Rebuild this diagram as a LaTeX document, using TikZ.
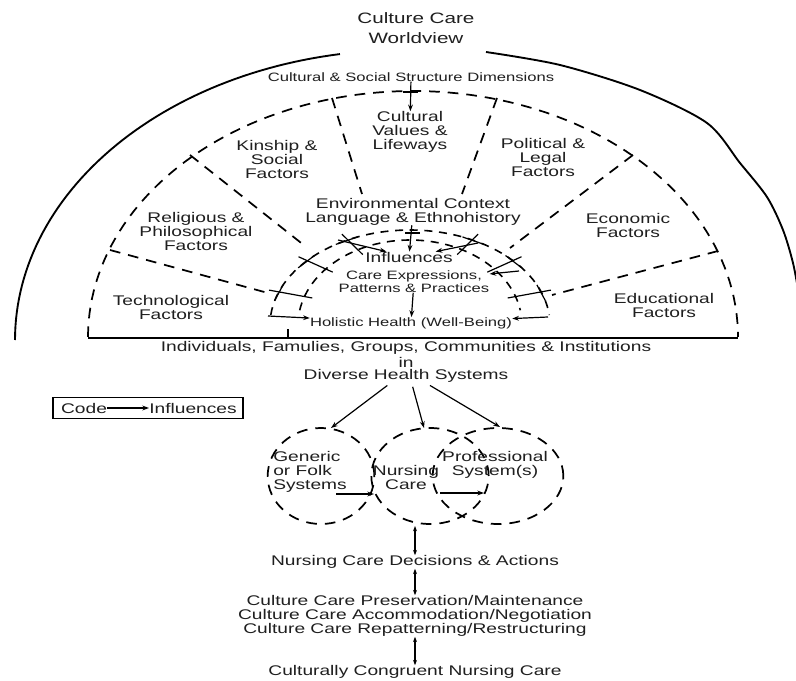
\documentclass[tikz,border=0pt]{standalone}
\usepackage{fontspec}
\setmainfont[FakeStretch=1.37]{Liberation Sans}
\usetikzlibrary{arrows.meta,shapes.geometric}
\begin{document}
\begin{tikzpicture}[x=0.75pt,y=-0.75pt,
  lbl/.style={font=\fontsize{10.5}{10.5}\selectfont,align=center,inner sep=0pt,text=black!88},
  slbl/.style={font=\fontsize{9.1}{9.8}\selectfont,align=center,inner sep=0pt,text=black!88},
  ttl/.style={font=\fontsize{11.3}{15}\selectfont,align=center,inner sep=0pt,text=black!88},
  solidln/.style={line width=1.4pt},
  dashln/.style={line width=1.3pt,dash pattern=on 8pt off 6pt},
  smalldash/.style={line width=1.2pt,dash pattern=on 6pt off 5pt},
  infl/.style={line width=0.9pt,-{Stealth[length=5pt,width=3.6pt]}},
  bidir/.style={line width=0.9pt,{Stealth[length=4pt,width=3pt]}-{Stealth[length=4pt,width=3pt]}},
  circ/.style={draw,ellipse,dashln,minimum height=72pt,inner sep=0pt},
  tick/.style={line width=0.9pt},
]
\clip (0,0) rectangle (796,681);
\fill[white] (0,0) rectangle (796,681);

% outer solid arc (sun)
\draw[solidln] plot[domain=180:260.4,samples=60] ({405+390*cos(\x)},{340+290*sin(\x)});
\draw[solidln] plot[smooth] coordinates {(486,52) (560,65) (640,90) (707,123) (740,163) (767,197) (783,230) (793,263) (799,295)};

% dashed ring of the dimensions
\draw[dashln] plot[domain=180:360,samples=100] ({413+325*cos(\x)},{337+246*sin(\x)});

% base line
\draw[solidln] (88,338) -- (738,338);
\draw[tick] (288,329) -- (288,338);

% sector dividers
\draw[dashln] (110,250) -- (268,293);
\draw[dashln] (190,155) -- (305,246);
\draw[dashln] (332,98) -- (362,194);
\draw[dashln] (497,98) -- (462,194);
\draw[dashln] (633,155) -- (510,248);
\draw[dashln] (718,251) -- (552,295);

% inner arcs
\draw[smalldash] plot[domain=186:354,samples=60] ({410+140*cos(\x)},{325+95*sin(\x)});
\draw[smalldash] plot[domain=190:350,samples=60] ({410+112*cos(\x)},{325+85*sin(\x)});

% influence ticks crossing the inner arcs
\foreach \a in {200,222,243,297,318,340}{
  \draw[tick] ({410+150*cos(\a)},{325+102*sin(\a)}) -- ({410+104*cos(\a)},{325+79*sin(\a)});
  \draw[tick] ({410+140*cos(\a-5)},{325+95*sin(\a-5)}) -- ({410+140*cos(\a+5)},{325+95*sin(\a+5)});
}

% texts of the sun
\node[ttl] (title) at (416,28) {Culture Care\\Worldview};
\node[slbl] (cssd) at (411,77) {Cultural \& Social Structure Dimensions};
\node[lbl] (kin) at (277,159) {Kinship \&\\Social\\Factors};
\node[lbl] (cvl) at (410,132) {Cultural\\Values \&\\Lifeways};
\node[lbl] (pol) at (543,157) {Political \&\\Legal\\Factors};
\node[lbl] (rel) at (196,231) {Religious \&\\Philosophical\\Factors};
\node[lbl] (eco) at (628,225) {Economic\\Factors};
\node[lbl] (tec) at (171,307) {Technological\\Factors};
\node[lbl] (edu) at (664,305) {Educational\\Factors};
\node[lbl] (env) at (413,211.5) {Environmental Context\\Language \& Ethnohistory};
\node[lbl] (influ) at (409,257) {Influences};
\node[slbl] (care) at (414,281.5) {Care Expressions,\\Patterns \& Practices};
\node[slbl] (holi) at (411,323) {Holistic Health (Well-Being)};

% arrows inside the sun
\draw[infl] (cssd) -- (cvl);
\draw[tick] (403,92) -- (418,92);
\draw[infl] (env) -- (influ);
\draw[tick] (405,233) -- (420,233);
\draw[infl] (care) -- (holi);
\coordinate (hl) at (268,316);
\coordinate (hr) at (548,317);
\coordinate (cr) at (519,271);
\coordinate (il) at (338,240);
\coordinate (ir) at (478,243);
\draw[infl] (hl) -- (holi);
\draw[infl] (hr) -- (holi);
\draw[infl] (cr) -- (care);
\draw[infl] (il) -- (influ);
\draw[infl] (ir) -- (influ);

% individuals
\node[lbl] (ind) at (406,348) {Individuals, Famulies, Groups, Communities \& Institutions};
\node[lbl] (in) at (406,362) {in};
\node[lbl] (dhs) at (406,376) {Diverse Health Systems};

% legend
\node[draw,line width=0.9pt,minimum width=142.5pt,minimum height=16pt,inner sep=0pt] (legend) at (148,408) {};
\node[lbl] (lcode) at (84,408) {Code};
\node[lbl] (linf) at (193,408) {Influences};
\draw[infl] (lcode) -- (linf);

% health systems
\node[circ,minimum width=80pt] (gen) at (321,476) {};
\node[circ,minimum width=88pt] (nur) at (430,476) {};
\node[circ,minimum width=98pt] (pro) at (498,476) {};
\node[lbl,align=left,anchor=west] (gtxt) at (273,472) {Generic\\or Folk\\Systems};
\node[lbl] (ntxt) at (406,477) {Nursing\\Care};
\node[lbl] (ptxt) at (495,465) {Professional\\System(s)};

\coordinate (gt) at (331,428);
\coordinate (nt) at (424,428);
\coordinate (pt) at (500,427);
\draw[infl] ([xshift=-14pt,yshift=-2pt]dhs.south) -- (gt);
\draw[infl] ([xshift=5pt,yshift=-3pt]dhs.south) -- (nt);
\draw[infl] ([xshift=18pt,yshift=-2pt]dhs.south) -- (pt);

\coordinate (ga) at (336,494);
\coordinate (gb) at (374,494);
\coordinate (na) at (440,493);
\coordinate (nb) at (484,493);
\draw[infl] (ga) -- (gb);
\draw[infl] (na) -- (nb);

% decisions
\node[lbl] (ncd) at (415,562) {Nursing Care Decisions \& Actions};
\node[lbl] (ccp) at (415,616) {Culture Care Preservation/Maintenance\\Culture Care Accommodation/Negotiation\\Culture Care Repatterning/Restructuring};
\node[lbl] (ccn) at (415,672) {Culturally Congruent Nursing Care};
\coordinate (vb) at (415,526);
\draw[bidir] (vb) -- (ncd);
\draw[bidir] (ncd) -- (ccp);
\draw[bidir] (ccp) -- (ccn);
\end{tikzpicture}
\end{document}
